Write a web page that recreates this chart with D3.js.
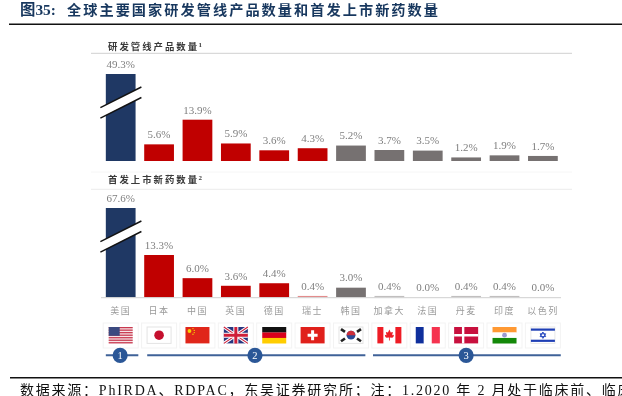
<!DOCTYPE html>
<html><head><meta charset="utf-8">
<script src="https://cdn.jsdelivr.net/npm/d3@7"></script>
<style>
html,body{margin:0;padding:0;background:#fff;overflow:hidden}
svg{display:block}
text{font-family:"Liberation Serif","Noto Sans CJK SC",serif}
.soft{filter:blur(.35px)}
</style></head><body><svg id="c" width="622" height="396"></svg>
<script>
const titleLead = "图35:";
const titleText = "全球主要国家研发管线产品数量和首发上市新药数量";
const panel1Title = "研发管线产品数量";
const panel2Title = "首发上市新药数量";
const footerText = "数据来源：PhIRDA、RDPAC，东吴证券研究所；注：1.2020 年 2 月处于临床前、临床";
const categories = ["美国","日本","中国","英国","德国","瑞士","韩国","加拿大","法国","丹麦","印度","以色列"];
const flagKeys = ["us","jp","cn","gb","de","ch","kr","ca","fr","dk","in","il"];
const barColors = ["#1f3864","#c00000","#c00000","#c00000","#c00000","#c00000","#767171","#767171","#767171","#767171","#767171","#767171"];
const pipelineValues = [49.3,5.6,13.9,5.9,3.6,4.3,5.2,3.7,3.5,1.2,1.9,1.7];
const launchValues = [67.6,13.3,6.0,3.6,4.4,0.4,3.0,0.4,0.0,0.4,0.4,0.0];
const badgeLabels = ["1","2","3"];

const svg = d3.select("#c");
const root = svg.append("g").attr("class","soft");
const x = d3.scaleBand().domain(categories).range([101.6,562]).paddingInner(0.225).paddingOuter(0.11);

// title & rules
root.append("text").attr("x",20).attr("y",15).attr("fill","#17375e").attr("font-size",15.4).attr("font-weight",700).text(titleLead);
root.append("text").attr("x",67).attr("y",15).attr("fill","#17375e").attr("font-size",14.2)
  .attr("font-weight",700).attr("textLength",371).attr("lengthAdjust","spacing").text(titleText);
root.append("line").attr("x1",9).attr("x2",622).attr("y1",24.3).attr("y2",24.3).attr("stroke","#111").attr("stroke-width",1.5);
root.append("line").attr("x1",10).attr("x2",622).attr("y1",377.7).attr("y2",377.7).attr("stroke","#111").attr("stroke-width",1.5);
root.append("text").attr("x",20).attr("y",395).attr("fill","#111").attr("font-size",14).attr("letter-spacing",1.77).text(footerText);

function panel(values, title, sup, titleY, lineY, y, breakY){
  root.append("text").attr("x",108).attr("y",titleY).attr("font-size",9.4).attr("font-weight",700).attr("fill","#3a3a3a")
    .attr("letter-spacing",2).text(title);
  root.append("text").attr("x",198.5).attr("y",titleY-3).attr("font-size",7).attr("font-weight",700).attr("fill","#3a3a3a").text(sup);
  root.append("line").attr("x1",91).attr("x2",572).attr("y1",lineY).attr("y2",lineY).attr("stroke",sup==="1"?"#d0d0d0":"#ececec");
  const g = root.append("g");
  g.selectAll("rect").data(values).join("rect")
    .attr("x",(d,i)=>x(categories[i])).attr("width",x.bandwidth())
    .attr("y",d=>y(d)).attr("height",d=>y(0)-y(d))
    .attr("fill",(d,i)=>barColors[i]).attr("fill-opacity",d=>d<1?0.45:1);
  g.selectAll("text").data(values).join("text")
    .attr("x",(d,i)=>x(categories[i])+x.bandwidth()/2).attr("y",d=>y(d)-6.2)
    .attr("text-anchor","middle").attr("font-size",11).attr("fill","#7f7f7f").text(d=>d.toFixed(1)+"%");
  // axis break
  const bx0=100.4,bx1=141.4;
  root.append("path").attr("d",`M${bx0},${breakY+20.6}L${bx1},${breakY}L${bx1},${breakY+10.5}L${bx0},${breakY+31.1}Z`).attr("fill","#fff");
  [0,10.5].forEach(o=>root.append("line").attr("x1",bx0).attr("y1",breakY+20.6+o).attr("x2",bx1).attr("y2",breakY+o).attr("stroke","#111").attr("stroke-width",1.4));
}
const y1 = d3.scaleLinear().domain([0,13.9,49.3]).range([161,119.7,74]);
const y2 = d3.scaleLinear().domain([0,13.3,67.6]).range([297.2,255,208]);
panel(pipelineValues,panel1Title,"1",49.5,53.3,y1,87);
root.append("line").attr("x1",91).attr("x2",572).attr("y1",172).attr("y2",172).attr("stroke","#f6f6f6");
panel(launchValues,panel2Title,"2",183,189.3,y2,221);
root.append("line").attr("x1",101).attr("x2",561).attr("y1",297.7).attr("y2",297.7).attr("stroke","#cfcfcf");

// category labels
root.append("g").selectAll("text").data(categories).join("text")
  .attr("x",d=>x(d)+x.bandwidth()/2).attr("y",314).attr("text-anchor","middle")
  .attr("font-size",9).attr("letter-spacing",1.5).attr("fill","#9a9a9a").text(d=>d);

// flags
const F = {W:24,H:16.4};
const flagDraw = {
 us(g){g.append("rect").attr("width",F.W).attr("height",F.H).attr("fill","#f6e4e6");
   d3.range(0,7).forEach(i=>g.append("rect").attr("y",i*F.H/6.5).attr("width",F.W).attr("height",F.H/13).attr("fill","#c8384f"));
   g.append("rect").attr("width",11).attr("height",8.8).attr("fill","#3b4a80");},
 jp(g){g.append("rect").attr("width",F.W).attr("height",F.H).attr("fill","#fff").attr("stroke","#e4e4e4");
   g.append("circle").attr("cx",F.W/2).attr("cy",F.H/2).attr("r",4.8).attr("fill","#c5102e");},
 cn(g){g.append("rect").attr("width",F.W).attr("height",F.H).attr("fill","#e0261a");
   g.append("circle").attr("cx",4).attr("cy",4).attr("r",1.9).attr("fill","#f7d200");
   [[7.5,1.6],[8.8,3.4],[8.8,5.6],[7.5,7.2]].forEach(p=>g.append("circle").attr("cx",p[0]).attr("cy",p[1]).attr("r",.7).attr("fill","#f7d200"));},
 gb(g){g.append("rect").attr("width",F.W).attr("height",F.H).attr("fill","#27357e");
   g.append("path").attr("d",`M0,0L${F.W},${F.H}M${F.W},0L0,${F.H}`).attr("stroke","#fff").attr("stroke-width",3.2);
   g.append("path").attr("d",`M0,0L${F.W},${F.H}M${F.W},0L0,${F.H}`).attr("stroke","#cf1f3a").attr("stroke-width",1.1);
   g.append("path").attr("d",`M${F.W/2},0V${F.H}M0,${F.H/2}H${F.W}`).attr("stroke","#fff").attr("stroke-width",5);
   g.append("path").attr("d",`M${F.W/2},0V${F.H}M0,${F.H/2}H${F.W}`).attr("stroke","#cf1f3a").attr("stroke-width",3);},
 de(g){["#111","#d9001b","#ffcd00"].forEach((c,i)=>g.append("rect").attr("y",i*F.H/3).attr("width",F.W).attr("height",F.H/3+.1).attr("fill",c));},
 ch(g){g.append("rect").attr("width",F.W).attr("height",F.H).attr("fill","#e0201b");
   g.append("path").attr("d",`M${F.W/2},3.2V${F.H-3.2}M${F.W/2-5},${F.H/2}H${F.W/2+5}`).attr("stroke","#fff").attr("stroke-width",3);},
 kr(g){g.append("rect").attr("width",F.W).attr("height",F.H).attr("fill","#fff").attr("stroke","#e4e4e4");
   g.append("circle").attr("cx",F.W/2).attr("cy",F.H/2).attr("r",4.4).attr("fill","#2a4a96");
   g.append("path").attr("d",`M${F.W/2-4.4},${F.H/2}A4.4,4.4 0 0 1 ${F.W/2+4.4},${F.H/2}Z`).attr("fill","#cd2e3a");
   [[4,3.5,1],[20,3.5,-1],[4,12.9,-1],[20,12.9,1]].forEach(p=>g.append("line").attr("x1",p[0]-2).attr("x2",p[0]+2).attr("y1",p[1]-1.4*p[2]).attr("y2",p[1]+1.4*p[2]).attr("stroke","#222").attr("stroke-width",2.6));},
 ca(g){g.append("rect").attr("width",F.W).attr("height",F.H).attr("fill","#fff");
   [0,18].forEach(o=>g.append("rect").attr("x",o).attr("width",6).attr("height",F.H).attr("fill","#ee1c25"));
   g.append("path").attr("d","M12,2.5L13.4,5.6L15.5,5L14.8,8.2L16.6,7.8L16,10L14.8,10.7L12.4,10.6L12.4,13.4H11.6L11.6,10.6L9.2,10.7L8,10L7.4,7.8L9.2,8.2L8.5,5L10.6,5.6Z").attr("fill","#ee1c25");},
 fr(g){["#0f2f9c","#fff","#f5334f"].forEach((c,i)=>g.append("rect").attr("x",i*F.W/3).attr("width",F.W/3+.1).attr("height",F.H).attr("fill",c));},
 dk(g){g.append("rect").attr("width",F.W).attr("height",F.H).attr("fill","#c8103e");
   g.append("path").attr("d",`M9,0V${F.H}M0,${F.H/2}H${F.W}`).attr("stroke","#fff").attr("stroke-width",2.4);},
 in(g){["#ff9933","#fff","#138808"].forEach((c,i)=>g.append("rect").attr("y",i*F.H/3).attr("width",F.W).attr("height",F.H/3+.1).attr("fill",c));
   g.append("circle").attr("cx",F.W/2).attr("cy",F.H/2).attr("r",2.4).attr("fill","#9a9ad0");},
 il(g){g.append("rect").attr("width",F.W).attr("height",F.H).attr("fill","#fff").attr("stroke","#e8e8e8");
   [1.5,F.H-3.7].forEach(o=>g.append("rect").attr("y",o).attr("width",F.W).attr("height",2.2).attr("fill","#1f3fb5"));
   g.append("path").attr("d",`M${F.W/2},5L${F.W/2+2.8},9.6H${F.W/2-2.8}ZM${F.W/2},11.4L${F.W/2+2.8},6.8H${F.W/2-2.8}Z`).attr("fill","none").attr("stroke","#2a4cc0").attr("stroke-width",1);}
};
const cardG = root.append("g");
categories.forEach((c,i)=>{
  const cx = x(c)+x.bandwidth()/2;
  cardG.append("rect").attr("x",cx-17.5).attr("y",323).attr("width",35).attr("height",25).attr("fill","#fff").attr("stroke","#f3f3f3");
  const g = cardG.append("g").attr("transform",`translate(${cx-F.W/2},327)`);
  flagDraw[flagKeys[i]](g);
});

// group timeline
const pos = d => x(categories[d]);
const spans = [[pos(0),pos(0)+32.5],[pos(1)+3,pos(6)+x.bandwidth()-.5],[pos(7)-1.5,pos(11)+x.bandwidth()+3]];
const tl = root.append("g");
tl.selectAll("line").data(spans).join("line").attr("x1",d=>d[0]).attr("x2",d=>d[1]).attr("y1",355.3).attr("y2",355.3)
  .attr("stroke","#3f6298").attr("stroke-width",2);
const badgeX = d3.scaleOrdinal().domain(badgeLabels).range([pos(0)+14.3,(pos(3)+pos(4))/2+14.8,pos(9)+x.bandwidth()/2]);
const badge = tl.selectAll("g").data(badgeLabels).join("g").attr("transform",d=>`translate(${badgeX(d)},355.3)`);
badge.append("circle").attr("r",7.6).attr("fill","#2b5797");
badge.append("text").attr("y",3.8).attr("text-anchor","middle").attr("font-size",10.5).attr("fill","#fff").text(d=>d);
</script></body></html>
